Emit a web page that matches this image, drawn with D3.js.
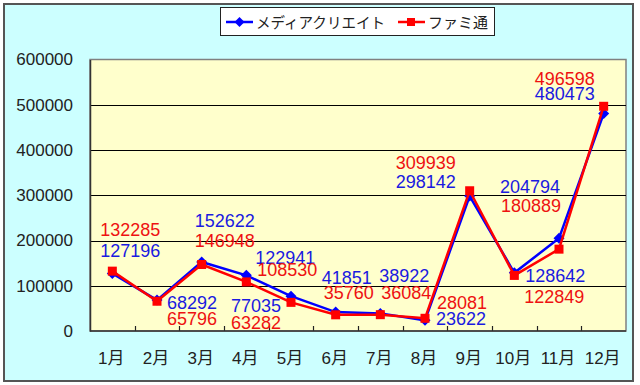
<!DOCTYPE html>
<html>
<head>
<meta charset="utf-8">
<script src="https://cdnjs.cloudflare.com/ajax/libs/d3/7.8.5/d3.min.js"></script>
<style>
  body { margin: 0; background: #fff; }
  svg text { font-family: "Liberation Sans", "Noto Sans CJK JP", sans-serif; }
</style>
</head>
<body>
<svg id="chart" width="640" height="385"></svg>
<script>
var months = ['1月','2月','3月','4月','5月','6月','7月','8月','9月','10月','11月','12月'];
var mediaCreate = [127196, 68292, 152622, 122941, 77035, 41851, 38922, 23622, 298142, 128642, 204794, 480473];
var famitsu = [132285, 65796, 146948, 108530, 63282, 35760, 36084, 28081, 309939, 122849, 180889, 496598];
var yTicks = [0, 100000, 200000, 300000, 400000, 500000, 600000];

// label offsets from each point (label centre), moved by hand like in the original
var blueLabelOffset = [[18,-23],[35,2],[23,-41],[39,-18],[-35,9],[11,-35],[24,-38],[36,-2],[-44,-15],[41,3],[-29,-52],[-39,-20]];
var redLabelOffset = [[18,-42],[35,17],[23,-24],[41,-12],[-35,20],[13,-22],[26,-22],[37,-16],[-44,-28],[40,21],[-28,-44],[-39,-28]];

var svg = d3.select('#chart');

// outer chart area
svg.append('rect')
    .attr('x',4).attr('y',4).attr('width',629).attr('height',377)
    .style('fill','#ccffff')
    .style('stroke','#555')
    .style('stroke-width',2);

var plot = {left: 90, right: 626, top: 59.5, bottom: 331};

var x = d3.scaleBand().domain(months).range([plot.left, plot.right]).padding(0);
var y = d3.scaleLinear().domain([0, 600000]).range([plot.bottom, plot.top]);

svg.append('rect')
    .attr('x',plot.left).attr('y',plot.top)
    .attr('width',plot.right - plot.left).attr('height',plot.bottom - plot.top)
    .style('fill','#ffffcc')
    .style('stroke','#808080')
    .style('stroke-width',1.5);

// gridlines
svg.selectAll('.grid').data(yTicks.slice(1,-1)).enter().append('line')
    .attr('class','grid')
    .attr('x1',plot.left).attr('x2',plot.right)
    .attr('y1',function(d) { return Math.round(y(d)) + 0.5; })
    .attr('y2',function(d) { return Math.round(y(d)) + 0.5; })
    .style('stroke','#000')
    .style('stroke-width',1);

// y axis
var yAxis = d3.axisLeft(y).tickValues(yTicks).tickSize(0).tickPadding(17)
    .tickFormat(function(d) { return String(d); });
var gy = svg.append('g').attr('transform','translate(' + plot.left + ',0)').call(yAxis);
gy.select('.domain').style('stroke','#333').style('stroke-width',1.5);
gy.selectAll('text').style('font-size','17px').style('fill','#222')
    .style('font-family','"Liberation Sans", "Noto Sans CJK JP", sans-serif');

// x axis: ticks between categories, pointing into the plot
svg.selectAll('.xtick').data(months.slice(1)).enter().append('line')
    .attr('class','xtick')
    .attr('x1',function(d) { return Math.round(x(d)) + 0.5; })
    .attr('x2',function(d) { return Math.round(x(d)) + 0.5; })
    .attr('y1',plot.bottom).attr('y2',plot.bottom - 5)
    .style('stroke','#222').style('stroke-width',1.2);
svg.append('line')
    .attr('x1',plot.left).attr('x2',plot.right)
    .attr('y1',plot.bottom).attr('y2',plot.bottom)
    .style('stroke','#333').style('stroke-width',1.5);
svg.selectAll('.xlabel').data(months).enter().append('text')
    .attr('class','xlabel')
    .attr('x',function(d) { return x(d) + x.bandwidth() / 2 - 1; })
    .attr('y',364)
    .attr('text-anchor','middle')
    .style('font-size','17px')
    .style('fill','#222')
    .text(function(d) { return d; });

function cx(i) { return x(months[i]) + x.bandwidth() / 2; }

var line = d3.line()
    .x(function(d,i) { return cx(i); })
    .y(function(d) { return y(d); });

// series: media create (blue), famitsu (red) drawn on top
svg.append('path').datum(mediaCreate)
    .attr('d',line)
    .style('fill','none').style('stroke','#0000ff').style('stroke-width',2.5);
svg.selectAll('.diamond').data(mediaCreate).enter().append('path')
    .attr('class','diamond')
    .attr('d','M0,-5.5L5.5,0L0,5.5L-5.5,0Z')
    .attr('transform',function(d,i) { return 'translate(' + cx(i) + ',' + y(d) + ')'; })
    .style('fill','#0000ff');

svg.append('path').datum(famitsu)
    .attr('d',line)
    .style('fill','none').style('stroke','#ff0000').style('stroke-width',2.5);
svg.selectAll('.square').data(famitsu).enter().append('rect')
    .attr('class','square')
    .attr('x',function(d,i) { return cx(i) - 4.5; })
    .attr('y',function(d) { return y(d) - 4.5; })
    .attr('width',9).attr('height',9)
    .style('fill','#ff0000');

// data labels
svg.selectAll('.blabel').data(mediaCreate).enter().append('text')
    .attr('class','blabel')
    .attr('x',function(d,i) { return cx(i) + blueLabelOffset[i][0]; })
    .attr('y',function(d,i) { return y(d) + blueLabelOffset[i][1] + 6.5; })
    .attr('text-anchor','middle')
    .style('font-size','18px')
    .style('fill','#1a1ae0')
    .text(function(d) { return d; });
svg.selectAll('.rlabel').data(famitsu).enter().append('text')
    .attr('class','rlabel')
    .attr('x',function(d,i) { return cx(i) + redLabelOffset[i][0]; })
    .attr('y',function(d,i) { return y(d) + redLabelOffset[i][1] + 6.5; })
    .attr('text-anchor','middle')
    .style('font-size','18px')
    .style('fill','#ee1111')
    .text(function(d) { return d; });

// legend
var legend = svg.append('g');
legend.append('rect')
    .attr('x',220.5).attr('y',7.5).attr('width',274).attr('height',28)
    .style('fill','#fff').style('stroke','#222').style('stroke-width',1);
legend.append('line')
    .attr('x1',226).attr('x2',253).attr('y1',22).attr('y2',22)
    .style('stroke','#0000ff').style('stroke-width',2.5);
legend.append('path')
    .attr('d','M0,-5L5,0L0,5L-5,0Z')
    .attr('transform','translate(239.5,22)')
    .style('fill','#0000ff');
legend.append('text')
    .attr('x',256).attr('y',28)
    .style('font-size','15px').style('fill','#222')
    .attr('textLength',129).attr('lengthAdjust','spacingAndGlyphs')
    .text('メディアクリエイト');
legend.append('line')
    .attr('x1',398).attr('x2',425).attr('y1',22).attr('y2',22)
    .style('stroke','#ff0000').style('stroke-width',2.5);
legend.append('rect')
    .attr('x',407).attr('y',18).attr('width',8).attr('height',8)
    .style('fill','#ff0000');
legend.append('text')
    .attr('x',428).attr('y',28)
    .style('font-size','15px').style('fill','#222')
    .text('ファミ通');
</script>
</body>
</html>
